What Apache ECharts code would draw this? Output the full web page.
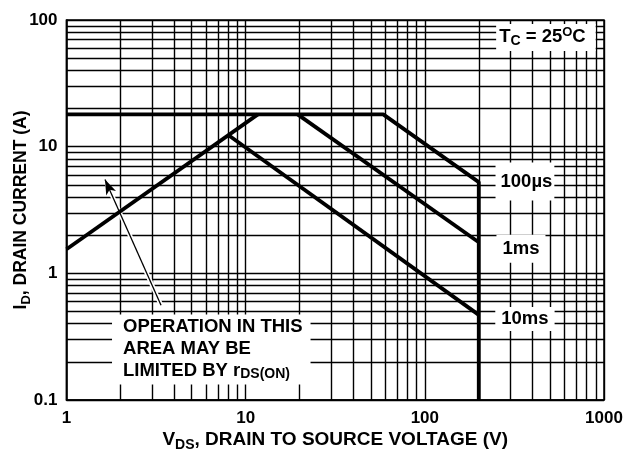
<!DOCTYPE html>
<html>
<head>
  <meta charset="UTF-8">
  <title>Forward bias safe operating area</title>
  <script src="https://cdn.jsdelivr.net/npm/echarts@6/dist/echarts.min.js"></script>
</head>
<body style="margin:0">
  <div id="chart" style="width:624px;height:453px"></div>
  <script>
    // axis ticks and the minor grid (2..9 inside each decade)
    const xTicks = [1, 10, 100, 1000];
    const yTicks = [0.1, 1, 10, 100];
    const xGrid = [2, 3, 4, 5, 6, 7, 8, 9, 20, 30, 40, 50, 60, 70, 80, 90, 200, 300, 400, 500, 600, 700, 800, 900];
    const yGrid = [0.2, 0.3, 0.4, 0.5, 0.6, 0.7, 0.8, 0.9, 2, 3, 4, 5, 6, 7, 8, 9, 20, 30, 40, 50, 60, 70, 80, 90];

    // curves, [V_DS, I_D]
    const rdsLimit = [[1, 1.55], [11.7, 18]];
    const pulse100us = [[1, 18], [58.6, 18], [200, 5.25], [200, 0.1]];
    const pulse1ms = [[19.5, 18], [200, 1.76]];
    const pulse10ms = [[8.1, 12.2], [200, 0.47]];

    // pointer from the note into the r_DS(on) limited area
    const arrowFrom = [3.37, 0.56];
    const arrowTo = [1.64, 5.5];

    const FONT = '"Liberation Sans", Arial, sans-serif';
    const textStyles = (size, lh) => ({
      b: { fontFamily: FONT, fontWeight: 'bold', fontSize: size, color: '#000', lineHeight: lh },
      sub: { fontFamily: FONT, fontWeight: 'bold', fontSize: Math.round(size * 0.75), color: '#000', lineHeight: lh, verticalAlign: 'bottom' },
      sup: { fontFamily: FONT, fontWeight: 'bold', fontSize: Math.round(size * 0.7), color: '#000', lineHeight: lh, verticalAlign: 'top' }
    });
    const rich = textStyles(18.5, 22);

    const thick = { color: '#000', width: 3.8 };
    const curve = (data) => ({
      type: 'line', data: data, symbol: 'none', silent: true, z: 5,
      lineStyle: thick, animation: false
    });

    const label = (x, y, text, pos, pad, align) => ({
      type: 'scatter', data: [[x, y]], symbolSize: 0, silent: true, z: 10, animation: false,
      itemStyle: { opacity: 1 },
      label: {
        show: true, position: pos, distance: 0, formatter: text, rich: rich, opacity: 1,
        color: '#000', fontWeight: 'bold', textBorderWidth: 0,
        backgroundColor: '#fff', padding: pad, align: align
      }
    });

    const arrowLine = (color, width, symbols, z) => ({
      type: 'line', data: [], silent: true, z: z,
      markLine: {
        silent: true, animation: false, symbol: symbols, symbolSize: [8, 15],
        label: { show: false },
        lineStyle: { color: color, width: width, type: 'solid' },
        data: [[{ coord: arrowFrom }, { coord: arrowTo }]]
      }
    });

    const chart = echarts.init(document.getElementById('chart'));
    chart.setOption({
      animation: false,
      grid: {
        left: 66.5, right: 20, top: 20, bottom: 53, outerBoundsMode: 'none',
        show: true, borderColor: '#000', borderWidth: 1.5
      },
      xAxis: {
        type: 'log', logBase: 10, min: xTicks[0], max: xTicks[xTicks.length - 1],
        axisLine: { lineStyle: { color: '#000', width: 1.5 } },
        axisTick: { show: false },
        splitLine: { show: true, lineStyle: { color: '#000', width: 1.4 } },
        axisLabel: {
          margin: 10, color: '#000', fontFamily: FONT, fontWeight: 'bold', fontSize: 17,
          formatter: (v) => String(v)
        },
        name: '{b|V}{sub|DS}{b|, DRAIN TO SOURCE VOLTAGE (V)}',
        nameLocation: 'middle', nameGap: 28, nameMoveOverlap: false,
        nameTextStyle: { rich: textStyles(19, 24) }
      },
      yAxis: {
        type: 'log', logBase: 10, min: yTicks[0], max: yTicks[yTicks.length - 1],
        axisLine: { lineStyle: { color: '#000', width: 1.5 } },
        axisTick: { show: false },
        splitLine: { show: true, lineStyle: { color: '#000', width: 1.4 } },
        axisLabel: {
          margin: 9, color: '#000', fontFamily: FONT, fontWeight: 'bold', fontSize: 17,
          formatter: (v) => String(v)
        },
        name: '{b|I}{sub|D}{b|, DRAIN CURRENT (A)}',
        nameLocation: 'middle', nameGap: 34, nameMoveOverlap: false,
        nameTextStyle: { rich: textStyles(17.5, 22) }
      },
      series: [
        {
          type: 'line', data: [], silent: true, z: 1,
          markLine: {
            silent: true, symbol: 'none', animation: false,
            label: { show: false },
            lineStyle: { color: '#000', width: 1.4, type: 'solid' },
            data: xGrid.map(v => ({ xAxis: v })).concat(yGrid.map(v => ({ yAxis: v })))
          }
        },
        curve(rdsLimit),
        curve(pulse100us),
        curve(pulse1ms),
        curve(pulse10ms),
        arrowLine('#fff', 4.5, 'none', 6),
        arrowLine('#000', 1.3, ['none', 'arrow'], 7),
        label(362, 5.3, '{b|100\u00b5s}', 'inside', [8, 2, 8, 5], 'center'),
        label(344, 1.56, '{b|1ms}', 'inside', [3, 6, 3, 6], 'center'),
        label(362, 0.435, '{b|10ms}', 'inside', [1, 6, 1, 6], 'center'),
        label(474, 72.8, '{b|T}{sub|C}{b| = 25}{sup|O}{b|C}', 'inside', [2, 10, 3, 3], 'center'),
        label(1.795, 0.25, '{b|OPERATION IN THIS}\n{b|AREA MAY BE}\n{b|LIMITED BY r}{sub|DS(ON)}', 'right', [1, 8, 3, 11], 'left')
      ]
    });
  </script>
</body>
</html>
